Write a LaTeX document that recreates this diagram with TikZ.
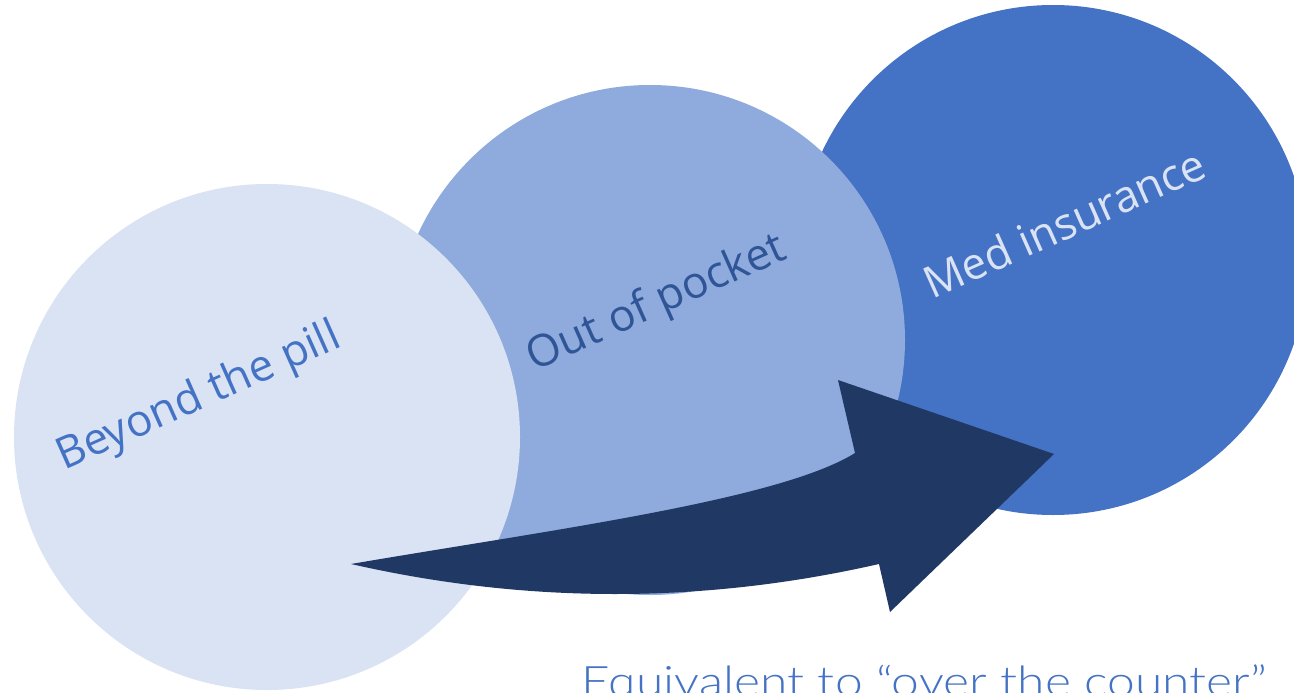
\documentclass[tikz,border=0pt]{standalone}
\usepackage{fontspec}
\setmainfont{Open Sans}
\newfontfamily\thinfont{Lato Light}
\definecolor{cLight}{HTML}{DAE3F3}
\definecolor{cMid}{HTML}{8FAADC}
\definecolor{cDark}{HTML}{4472C4}
\definecolor{cNavy}{HTML}{203864}
\definecolor{cTextMid}{HTML}{2F5597}
\tikzset{
  bubble/.style={fill=#1, draw=none},
  bubbletext/.style={font=\fontsize{44}{50}\selectfont, rotate=24, inner sep=0pt, anchor=center},
}
\begin{document}
\begin{tikzpicture}[x=1pt,y=-1pt]
\useasboundingbox (0,0) rectangle (1294,693);
\fill[white] (0,0) rectangle (1294,693);
\begin{scope}
\clip (0,0) rectangle (1294,693);
\fill[bubble=cDark] (1053,260) circle (255);
\fill[bubble=cMid] (650,340) circle (255);
\fill[bubble=cLight] (267,437) circle (253);
\node[bubbletext, text=cDark] (t1) at (199,398) {Beyond the pill};
\node[bubbletext, text=cTextMid] (t2) at (657,304) {Out of pocket};
\node[bubbletext, text=cLight] (t3) at (1064,223) {Med insurance};
\fill[cNavy] (351,564) .. controls (550,530) and (780,500) .. (855,453)
  -- (838,380) -- (1054,454) -- (890,612) -- (879,564)
  .. controls (703,604) and (527,604) .. (351,564) -- cycle;
\node[anchor=base west, inner sep=0pt, xscale=1.185, text=cDark, font=\thinfont\fontsize{42}{48}\selectfont] (cap) at (581,696) {Equivalent to “over the counter”};
\end{scope}
\end{tikzpicture}
\end{document}
